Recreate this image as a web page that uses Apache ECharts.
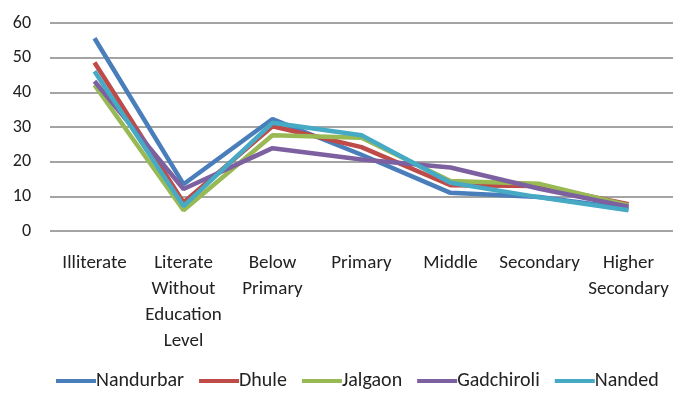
<!DOCTYPE html>
<html>
<head>
<meta charset="utf-8">
<script src="https://cdn.jsdelivr.net/npm/echarts@6/dist/echarts.min.js"></script>
<style>
  html, body { margin: 0; padding: 0; background: #fff; }
  #chart { width: 673px; height: 401px; }
</style>
</head>
<body>
<div id="chart"></div>
<script>
// Education level categories (x axis)
const categories = [
  'Illiterate',
  'Literate\nWithout\nEducation\nLevel',
  'Below\nPrimary',
  'Primary',
  'Middle',
  'Secondary',
  'Higher\nSecondary'
];

// Share of population (%) by district
const nandurbar  = [55.6, 13.5, 32.3, 22.0, 11.0, 9.8, 6.4];
const dhule      = [48.6,  8.2, 30.2, 24.2, 13.2, 13.0, 7.7];
const jalgaon    = [42.1,  6.0, 27.6, 26.9, 14.4, 13.6, 7.4];
const gadchiroli = [43.2, 12.1, 23.9, 20.6, 18.3, 12.2, 7.0];
const nanded     = [46.1,  7.2, 31.2, 27.6, 13.9, 9.7, 6.0];

// Y axis range
const yMin = 0, yMax = 60, yStep = 10;

const seriesDefs = [
  { name: 'Nandurbar',  data: nandurbar,  color: '#4A7EBB' },
  { name: 'Dhule',      data: dhule,      color: '#BE4B48' },
  { name: 'Jalgaon',    data: jalgaon,    color: '#98B954' },
  { name: 'Gadchiroli', data: gadchiroli, color: '#7D60A0' },
  { name: 'Nanded',     data: nanded,     color: '#46AAC5' }
];

const font = 'Carlito, Lato, "Liberation Sans", sans-serif';

const chart = echarts.init(document.getElementById('chart'), null, { renderer: 'canvas' });
chart.setOption({
  animation: false,
  backgroundColor: '#ffffff',
  textStyle: { fontFamily: font },
  grid: { left: 50, top: 23, width: 631, height: 208, containLabel: false },
  xAxis: {
    type: 'category',
    data: categories,
    boundaryGap: true,
    axisLine: { show: false },
    axisTick: { show: false },
    axisLabel: {
      interval: 0,
      margin: 19,
      color: '#222',
      fontSize: 19,
      lineHeight: 26,
      fontFamily: font
    }
  },
  yAxis: {
    type: 'value',
    min: yMin,
    max: yMax,
    interval: yStep,
    axisLine: { show: false },
    axisTick: { show: false },
    axisLabel: { color: '#222', fontSize: 18, margin: 19, fontFamily: font },
    splitLine: { lineStyle: { color: '#868686', width: 1.5 } }
  },
  legend: {
    bottom: 5,
    left: 51,
    icon: 'rect',
    itemWidth: 40,
    itemHeight: 4,
    itemGap: 15,
    textStyle: { fontSize: 20, color: '#222', fontFamily: font, padding: [0, 0, 0, -5] },
    data: seriesDefs.map(s => s.name)
  },
  series: seriesDefs.map(s => ({
    name: s.name,
    type: 'line',
    data: s.data,
    symbol: 'none',
    lineStyle: { color: s.color, width: 4.5 },
    itemStyle: { color: s.color }
  }))
});
</script>
</body>
</html>
